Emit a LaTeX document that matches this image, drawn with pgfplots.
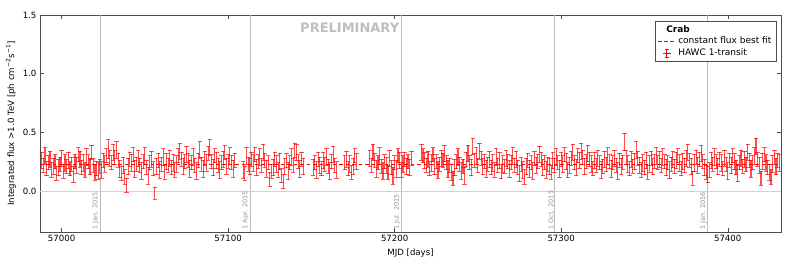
\documentclass[border=0pt]{standalone}
\usepackage{pgfplots}
\pgfplotsset{compat=1.18}
\usepackage{pgfplotstable}
\usepackage{fontspec}
\setmainfont{DejaVu Sans}
\definecolor{mred}{RGB}{255,0,0}
\pgfplotstableread{
x y e
56988 0.26 0.07
56989 0.22 0.06
56990 0.30 0.07
56991 0.19 0.06
56992 0.24 0.06
56993 0.27 0.07
56994 0.18 0.06
56995 0.21 0.07
56996 0.25 0.06
56997 0.15 0.06
56998 0.20 0.07
56999 0.23 0.06
57000 0.28 0.07
57001 0.17 0.06
57002 0.24 0.07
57003 0.21 0.06
57004 0.26 0.07
57005 0.19 0.06
57006 0.23 0.06
57007 0.14 0.07
57008 0.25 0.06
57009 0.22 0.07
57010 0.31 0.06
57011 0.27 0.07
57012 0.20 0.06
57013 0.24 0.07
57014 0.18 0.06
57015 0.29 0.07
57016 0.25 0.06
57017 0.21 0.07
57018 0.33 0.06
57019 0.22 0.06
57020 0.16 0.07
57021 0.19 0.06
57022 0.17 0.07
57023 0.21 0.06
57024 0.18 0.07
57025 0.26 0.06
57026 0.23 0.07
57027 0.30 0.06
57028 0.36 0.08
57029 0.28 0.07
57030 0.24 0.06
57031 0.33 0.07
57032 0.29 0.06
57033 0.35 0.07
57034 0.26 0.06
57035 0.19 0.07
57036 0.15 0.06
57037 0.22 0.07
57038 0.12 0.06
57039 0.05 0.06
57040 0.21 0.07
57041 0.27 0.06
57042 0.24 0.07
57043 0.31 0.06
57044 0.19 0.07
57045 0.23 0.06
57046 0.28 0.07
57047 0.22 0.06
57048 0.17 0.07
57049 0.25 0.06
57050 0.30 0.07
57051 0.20 0.06
57052 0.13 0.07
57053 0.24 0.06
57054 0.27 0.07
57055 0.19 0.06
57056 -0.02 0.05
57057 0.21 0.07
57058 0.26 0.06
57059 0.18 0.07
57060 0.23 0.06
57061 0.29 0.07
57062 0.16 0.06
57063 0.25 0.07
57064 0.22 0.06
57065 0.28 0.07
57066 0.20 0.06
57067 0.24 0.07
57068 0.18 0.06
57069 0.23 0.07
57070 0.30 0.06
57071 0.34 0.07
57072 0.27 0.06
57073 0.21 0.07
57074 0.25 0.06
57075 0.31 0.07
57076 0.26 0.06
57077 0.19 0.07
57078 0.24 0.06
57079 0.29 0.07
57080 0.22 0.06
57081 0.17 0.07
57082 0.26 0.06
57083 0.35 0.07
57084 0.23 0.06
57085 0.19 0.07
57086 0.28 0.06
57087 0.24 0.07
57088 0.32 0.06
57089 0.37 0.07
57090 0.25 0.06
57091 0.20 0.07
57092 0.30 0.06
57093 0.26 0.07
57094 0.22 0.06
57095 0.18 0.07
57096 0.24 0.06
57097 0.27 0.07
57098 0.33 0.06
57099 0.21 0.07
57100 0.25 0.06
57101 0.30 0.07
57102 0.24 0.06
57103 0.19 0.07
57104 0.26 0.06
57109 0.18 0.07
57110 0.15 0.06
57111 0.30 0.07
57112 0.23 0.06
57113 0.21 0.07
57114 0.27 0.06
57115 0.24 0.07
57116 0.31 0.06
57117 0.20 0.07
57118 0.25 0.06
57119 0.29 0.07
57120 0.22 0.06
57121 0.33 0.07
57122 0.26 0.06
57123 0.19 0.07
57124 0.24 0.06
57125 0.10 0.06
57126 0.17 0.06
57127 0.20 0.07
57128 0.27 0.06
57129 0.23 0.07
57130 0.18 0.06
57131 0.25 0.07
57132 0.13 0.06
57133 0.08 0.06
57134 0.21 0.07
57135 0.26 0.06
57136 0.17 0.07
57137 0.24 0.06
57138 0.29 0.07
57139 0.22 0.06
57140 0.35 0.06
57141 0.33 0.07
57142 0.25 0.06
57143 0.19 0.07
57144 0.27 0.06
57145 0.21 0.07
57151 0.20 0.07
57152 0.24 0.06
57153 0.18 0.07
57154 0.27 0.06
57155 0.22 0.07
57156 0.19 0.06
57157 0.26 0.07
57158 0.23 0.06
57159 0.29 0.07
57160 0.21 0.06
57161 0.17 0.07
57162 0.25 0.06
57163 0.31 0.07
57164 0.22 0.06
57165 0.18 0.07
57170 0.24 0.06
57171 0.27 0.07
57172 0.19 0.06
57173 0.23 0.07
57174 0.16 0.06
57175 0.21 0.07
57176 0.30 0.06
57177 0.25 0.07
57185 0.28 0.07
57186 0.22 0.06
57187 0.33 0.07
57188 0.26 0.06
57189 0.19 0.07
57190 0.24 0.06
57191 0.30 0.07
57192 0.21 0.06
57193 0.17 0.07
57194 0.25 0.06
57195 0.22 0.07
57196 0.16 0.06
57197 0.28 0.07
57198 0.20 0.06
57199 0.13 0.07
57200 0.24 0.06
57201 0.19 0.07
57202 0.30 0.06
57203 0.26 0.07
57204 0.18 0.06
57205 0.23 0.07
57206 0.27 0.06
57207 0.21 0.07
57208 0.25 0.06
57209 0.20 0.07
57210 0.28 0.06
57216 0.33 0.07
57217 0.30 0.06
57218 0.26 0.07
57219 0.22 0.06
57220 0.27 0.07
57221 0.19 0.06
57222 0.24 0.07
57223 0.31 0.06
57224 0.21 0.07
57225 0.25 0.06
57226 0.18 0.07
57227 0.23 0.06
57228 0.28 0.07
57229 0.26 0.06
57230 0.32 0.07
57231 0.24 0.06
57232 0.19 0.07
57233 0.22 0.06
57234 0.16 0.07
57235 0.11 0.06
57236 0.20 0.07
57237 0.25 0.06
57238 0.29 0.07
57239 0.23 0.06
57240 0.17 0.07
57241 0.21 0.06
57242 0.13 0.07
57243 0.27 0.06
57244 0.32 0.07
57245 0.24 0.06
57246 0.20 0.07
57247 0.38 0.07
57248 0.26 0.06
57249 0.30 0.07
57250 0.22 0.06
57251 0.34 0.07
57252 0.28 0.06
57253 0.21 0.07
57254 0.25 0.06
57255 0.19 0.07
57256 0.23 0.06
57257 0.27 0.07
57258 0.20 0.06
57259 0.24 0.07
57260 0.18 0.06
57261 0.29 0.07
57262 0.22 0.06
57263 0.26 0.07
57264 0.17 0.06
57265 0.23 0.07
57266 0.21 0.06
57267 0.28 0.07
57268 0.25 0.06
57269 0.19 0.07
57270 0.24 0.06
57271 0.30 0.07
57272 0.22 0.06
57273 0.27 0.07
57274 0.20 0.06
57275 0.15 0.07
57276 0.23 0.06
57277 0.18 0.07
57278 0.12 0.06
57279 0.21 0.07
57280 0.26 0.06
57281 0.19 0.07
57282 0.24 0.06
57283 0.17 0.07
57284 0.28 0.06
57285 0.22 0.07
57286 0.25 0.06
57287 0.31 0.07
57288 0.27 0.06
57289 0.20 0.07
57290 0.24 0.06
57291 0.18 0.07
57292 0.23 0.06
57293 0.21 0.07
57294 0.16 0.06
57295 0.26 0.07
57296 0.22 0.06
57297 0.29 0.07
57298 0.24 0.06
57299 0.19 0.07
57300 0.27 0.06
57301 0.23 0.07
57302 0.31 0.06
57303 0.25 0.07
57304 0.18 0.06
57305 0.22 0.07
57306 0.28 0.06
57307 0.33 0.07
57308 0.24 0.06
57309 0.20 0.07
57310 0.30 0.06
57311 0.26 0.07
57312 0.34 0.07
57313 0.29 0.06
57314 0.21 0.07
57315 0.25 0.06
57316 0.32 0.07
57317 0.27 0.06
57318 0.23 0.07
57319 0.19 0.06
57320 0.26 0.07
57321 0.22 0.06
57322 0.28 0.07
57323 0.24 0.06
57324 0.18 0.07
57325 0.21 0.06
57326 0.27 0.07
57327 0.23 0.06
57328 0.30 0.07
57329 0.25 0.06
57330 0.19 0.07
57331 0.24 0.06
57332 0.28 0.07
57333 0.22 0.06
57334 0.17 0.07
57335 0.26 0.06
57336 0.21 0.07
57337 0.24 0.06
57338 0.42 0.07
57339 0.29 0.06
57340 0.23 0.07
57341 0.19 0.06
57342 0.27 0.07
57343 0.21 0.06
57344 0.25 0.07
57345 0.35 0.07
57346 0.28 0.06
57347 0.22 0.07
57348 0.18 0.06
57349 0.24 0.07
57350 0.20 0.06
57351 0.26 0.07
57352 0.16 0.06
57353 0.23 0.07
57354 0.28 0.06
57355 0.21 0.07
57356 0.25 0.06
57357 0.30 0.07
57358 0.24 0.06
57359 0.27 0.07
57360 0.22 0.06
57361 0.29 0.07
57362 0.25 0.06
57363 0.20 0.07
57364 0.24 0.06
57365 0.18 0.07
57366 0.23 0.06
57367 0.27 0.07
57368 0.21 0.06
57369 0.26 0.07
57370 0.30 0.06
57371 0.24 0.07
57372 0.19 0.06
57373 0.25 0.07
57374 0.22 0.06
57375 0.28 0.07
57376 0.33 0.07
57377 0.26 0.06
57378 0.21 0.07
57379 0.11 0.06
57380 0.24 0.07
57381 0.29 0.06
57382 0.22 0.07
57383 0.27 0.06
57384 0.32 0.07
57385 0.25 0.06
57386 0.20 0.07
57387 0.16 0.06
57388 0.14 0.07
57389 0.18 0.06
57390 0.26 0.07
57391 0.23 0.06
57392 0.29 0.07
57393 0.25 0.06
57394 0.21 0.07
57395 0.27 0.06
57396 0.24 0.07
57397 0.19 0.06
57398 0.28 0.07
57399 0.23 0.06
57400 0.17 0.07
57401 0.26 0.06
57402 0.22 0.07
57403 0.30 0.06
57404 0.25 0.07
57405 0.20 0.06
57406 0.15 0.07
57407 0.24 0.06
57408 0.28 0.07
57409 0.21 0.06
57410 0.27 0.07
57411 0.23 0.06
57412 0.33 0.07
57413 0.26 0.06
57414 0.19 0.07
57415 0.24 0.06
57416 0.30 0.07
57417 0.38 0.07
57418 0.27 0.06
57419 0.22 0.07
57420 0.11 0.06
57421 0.25 0.07
57422 0.31 0.06
57423 0.24 0.07
57424 0.20 0.06
57425 0.16 0.07
57426 0.12 0.06
57427 0.23 0.07
57428 0.29 0.06
57429 0.21 0.07
57430 0.26 0.06
57431 0.24 0.07
}\flux
\begin{document}
\begin{tikzpicture}
\begin{axis}[
  scale only axis, width=741pt, height=217pt,
  xmin=56987, xmax=57432, ymin=-0.35, ymax=1.5,
  xtick={57000,57100,57200,57300,57400},
  xticklabels={57000,57100,57200,57300,57400},
  scaled x ticks=false,
  ytick={0,0.5,1,1.5},
  yticklabels={0.0,0.5,1.0,1.5},
  tick label style={font=\fontsize{8.6}{10}\selectfont},
  label style={font=\fontsize{8.6}{10}\selectfont},
  tick align=inside,
  major tick length=4pt,
  axis line style={black!70},
  every tick/.style={black!70},
  xlabel={MJD [days]},
  ylabel={Integrated flux >1.0 TeV [ph cm\textsuperscript{−2}s\textsuperscript{−1}]},
  extra x ticks={57023,57113,57204,57296,57388},
  extra x tick labels={},
  extra x tick style={grid=major, major grid style={gray!55, line width=0.6pt}, major tick length=0pt},
  extra y ticks={0},
  extra y tick labels={},
  extra y tick style={grid=major, major grid style={gray!35, line width=0.6pt}, major tick length=0pt},
  legend style={at={(axis description cs:0.994,0.972)}, anchor=north east, draw=black!70,
    font=\fontsize{9}{10.5}\selectfont, cells={anchor=west}, row sep=-0.5pt,
    inner xsep=3pt, inner ysep=2pt},
]
\addlegendimage{empty legend}
\addlegendentry{\hspace{-12pt}\textbf{Crab}}
\addlegendimage{legend image code/.code={
  \draw[color=mred, line width=0.8pt, dash pattern=on 3.5pt off 2.5pt] (0cm,0cm) -- (0.62cm,0cm);
}}
\addlegendentry{constant flux best fit}
\addlegendimage{legend image code/.code={
  \draw[color=mred, line width=0.8pt] (0.3cm,-0.13cm) -- (0.3cm,0.13cm);
  \draw[color=mred, line width=0.6pt] (0.23cm,-0.13cm) -- (0.37cm,-0.13cm);
  \draw[color=mred, line width=0.6pt] (0.23cm,0.13cm) -- (0.37cm,0.13cm);
  \draw[color=mred, line width=0.6pt] (0.16cm,0cm) -- (0.44cm,0cm);
}}
\addlegendentry{HAWC 1-transit}

\addplot[color=mred, dash pattern=on 3.5pt off 3pt, line width=0.8pt, forget plot]
  coordinates {(56987,0.23) (57432,0.23)};
\addplot[draw=none, mark=none, forget plot,
  error bars/.cd, y dir=both, y explicit,
  error bar style={draw=mred, line width=1.1pt, opacity=0.7},
  error mark options={draw=mred, mark size=2.2pt, rotate=90, line width=0.7pt}]
  table[x=x, y=y, y error=e] {\flux};

\begin{scope}[every node/.style={rotate=90, anchor=south west, font=\fontsize{6.5}{7}\selectfont, text=gray!85, inner sep=1pt}]
\node at (axis cs:57023,-0.34) {1 Jan. 2015};
\node at (axis cs:57113,-0.34) {1 Apr. 2015};
\node at (axis cs:57204,-0.34) {1 Jul. 2015};
\node at (axis cs:57296,-0.34) {1 Oct. 2015};
\node at (axis cs:57388,-0.34) {1 Jan. 2016};
\end{scope}
\node[font=\fontsize{13}{14}\bfseries, text=gray!50] at (axis cs:57173,1.39) {PRELIMINARY};
\node[anchor=south west, font=\fontsize{7}{8}\selectfont, inner sep=1pt] at (rel axis cs:0,1) {1e−10};
\end{axis}
\pgfresetboundingbox
\path ([shift={(-40pt,-31pt)}]current axis.south west) rectangle ([shift={(8pt,15pt)}]current axis.north east);
\end{tikzpicture}
\end{document}
